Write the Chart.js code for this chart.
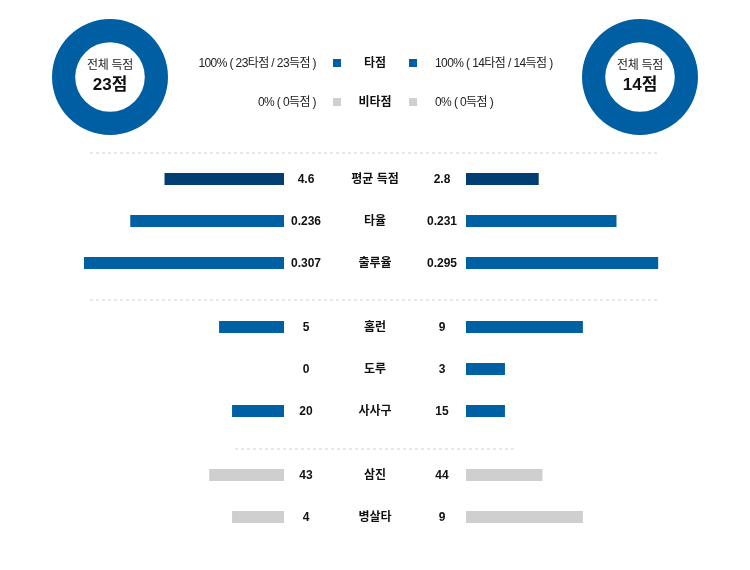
<!DOCTYPE html>
<html>
<head>
<meta charset="utf-8">
<script src="https://cdn.jsdelivr.net/npm/chart.js@4.4.0/dist/chart.umd.min.js"></script>
<style>
body { margin: 0; background: #fff; }
#wrap { position: relative; width: 750px; height: 570px; font-family: "Liberation Sans", Arial, "Noto Sans CJK KR", sans-serif; color: #111; }
canvas { position: absolute; }
.txt { position: absolute; font-size: 12px; line-height: 14px; white-space: nowrap; }
.b { font-weight: bold; }
.lg { letter-spacing: -0.6px; color: #222; }
.sq { position: absolute; width: 8px; height: 8px; }
.line { position: absolute; height: 2px; background: repeating-linear-gradient(to right, #e8e8e8 0 3px, transparent 3px 6px); }
</style>
</head>
<body>
<div id="wrap"></div>
<script>
// 득점 요약
teamRuns = [23, 14]
rbiRuns = [23, 14]
nonRbiRuns = [0, 0]
rbiLabels = ["100% ( 23타점 / 23득점 )", "100% ( 14타점 / 14득점 )"]
nonRbiLabels = ["0% ( 0득점 )", "0% ( 0득점 )"]

// 항목별 비교
categories = ["평균 득점", "타율", "출루율", "홈런", "도루", "사사구", "삼진", "병살타"]
awayValues = [4.6, 0.236, 0.307, 5, 0, 20, 43, 4]
homeValues = [2.8, 0.231, 0.295, 9, 3, 15, 44, 9]
valueLabels = [["4.6", "0.236", "0.307", "5", "0", "20", "43", "4"],
               ["2.8", "0.231", "0.295", "9", "3", "15", "44", "9"]]
rowMax = [7.7, 0.307, 0.307, 15.4, 15.4, 77, 115, 15.4]

// 레이아웃
rowY = [179, 221, 263, 327, 369, 411, 475, 517]
rowColor = ["#033e73", "#0060a4", "#0060a4", "#0060a4", "#0060a4", "#0060a4", "#cfcfcf", "#cfcfcf"]
blue = "#005fa3"
gray = "#cfcfcf"

var wrap = document.getElementById("wrap");

function add(tag, cls, css, text) {
	var el = document.createElement(tag);
	if (cls) el.className = cls;
	el.style.cssText = css;
	if (text !== undefined) el.textContent = text;
	wrap.appendChild(el);
	return el;
}

function dona(cx, cy, idx) {
	var c = add("canvas", "", "left:" + (cx - 58) + "px;top:" + (cy - 58) + "px;");
	c.width = 116; c.height = 116;
	new Chart(c.getContext("2d"), {
		type: "doughnut",
		data: {
			labels: ["타점", "비타점"],
			datasets: [{ data: [rbiRuns[idx], nonRbiRuns[idx]], backgroundColor: [blue, gray], borderWidth: 0 }]
		},
		options: {
			responsive: false, animation: false, cutout: "60%",
			plugins: { legend: { display: false }, tooltip: { enabled: false } }
		}
	});
	add("div", "txt", "left:" + (cx - 40) + "px;width:80px;text-align:center;top:" + (cy - 19) + "px;color:#222;letter-spacing:-0.3px;", "전체 득점");
	add("div", "txt b", "left:" + (cx - 40) + "px;width:80px;text-align:center;top:" + (cy - 2) + "px;font-size:17px;line-height:20px;", teamRuns[idx] + "점");
}

dona(110, 77, 0);
dona(640, 77, 1);

// 범례
[[63, rbiLabels, "타점", blue], [102, nonRbiLabels, "비타점", gray]].forEach(function (r) {
	var y = r[0];
	add("div", "txt lg", "right:" + (750 - 316) + "px;top:" + (y - 7) + "px;", r[1][0]);
	add("div", "sq", "left:333px;top:" + (y - 4) + "px;background:" + r[3] + ";");
	add("div", "txt b", "left:335px;width:80px;text-align:center;top:" + (y - 7) + "px;", r[2]);
	add("div", "sq", "left:409px;top:" + (y - 4) + "px;background:" + r[3] + ";");
	add("div", "txt lg", "left:435px;top:" + (y - 7) + "px;", r[1][1]);
});

// 구분선
add("div", "line", "left:90px;width:568px;top:152px;");
add("div", "line", "left:90px;width:568px;top:299px;");
add("div", "line", "left:235px;width:280px;top:448px;");

function bar(left, y, value, max, color, reverse) {
	var c = add("canvas", "", "left:" + left + "px;top:" + (y - 10) + "px;");
	c.width = 200; c.height = 20;
	new Chart(c.getContext("2d"), {
		type: "bar",
		data: { labels: [""], datasets: [{ data: [value], backgroundColor: color, barThickness: 12, borderWidth: 0, inflateAmount: 0 }] },
		options: {
			indexAxis: "y", responsive: false, animation: false,
			layout: { padding: 0 },
			scales: {
				x: { display: false, min: 0, max: max, reverse: reverse },
				y: { display: false }
			},
			plugins: { legend: { display: false }, tooltip: { enabled: false } }
		}
	});
}

categories.forEach(function (cat, i) {
	var y = rowY[i];
	bar(84, y, awayValues[i], rowMax[i], rowColor[i], true);
	bar(466, y, homeValues[i], rowMax[i], rowColor[i], false);
	add("div", "txt b", "left:276px;width:60px;text-align:center;top:" + (y - 7) + "px;", valueLabels[0][i]);
	add("div", "txt b", "left:335px;width:80px;text-align:center;top:" + (y - 7) + "px;", cat);
	add("div", "txt b", "left:412px;width:60px;text-align:center;top:" + (y - 7) + "px;", valueLabels[1][i]);
});
</script>
</body>
</html>
